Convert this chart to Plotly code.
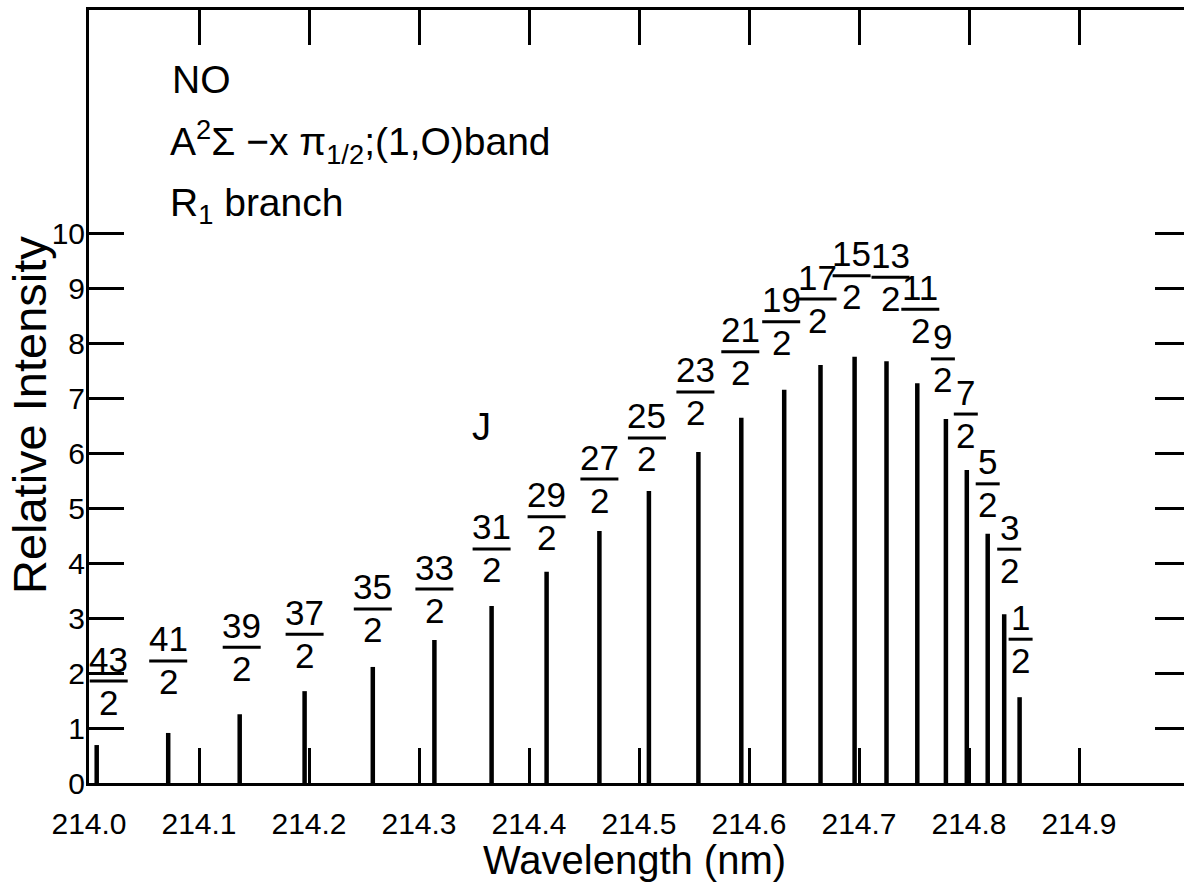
import plotly.graph_objects as go

# ---- data ----
j_numerators = [43, 41, 39, 37, 35, 33, 31, 29, 27, 25, 23, 21, 19, 17, 15, 13, 11, 9, 7, 5, 3, 1]
wavelengths = [214.007, 214.072, 214.137, 214.196, 214.258, 214.314, 214.366, 214.416,
               214.464, 214.509, 214.554, 214.593, 214.632, 214.665, 214.696, 214.725,
               214.753, 214.779, 214.798, 214.817, 214.832, 214.846]
intensities = [0.69, 0.91, 1.25, 1.67, 2.11, 2.60, 3.22, 3.84, 4.58, 5.31, 6.02, 6.64,
               7.15, 7.60, 7.75, 7.67, 7.27, 6.62, 5.69, 4.53, 3.07, 1.56]
x_tick_vals = [214.0, 214.1, 214.2, 214.3, 214.4, 214.5, 214.6, 214.7, 214.8, 214.9]
x_tick_text = ["214.0", "214.1", "214.2", "214.3", "214.4", "214.5", "214.6", "214.7", "214.8", "214.9"]
y_tick_vals = [0, 1, 2, 3, 4, 5, 6, 7, 8, 9, 10]
y_tick_text = ["0", "1", "2", "3", "4", "5", "6", "7", "8", "9", "10"]

# ---- label layout (pixel gaps above each stick, horizontal nudges) ----
label_gap_px = [28, 36, 31, 21, 22, 15, 21, 19, 16, 17, 24, 30, 32, 30, 45, 48, 38, 24, 20, 14, 29, 22]
label_dx_px = [12, 0, 2, 0, 0, 0, 0, 0, 0, -2, -3, -1, -3, -3, -3, 4, 3, -3, -1, 0, 5, 1]

SANS = "Liberation Sans, Arial, sans-serif"

# stick spectrum: one segment per line
sx, sy = [], []
for w, h in zip(wavelengths, intensities):
    sx += [w, w, None]
    sy += [0, h, None]

fig = go.Figure()
fig.add_trace(go.Scatter(x=sx, y=sy, mode="lines",
                         line=dict(color="black", width=4.5),
                         hoverinfo="skip", showlegend=False))
# invisible helper trace so the right-hand tick axis is drawn
fig.add_trace(go.Scatter(x=wavelengths, y=intensities, mode="markers", yaxis="y2",
                         marker=dict(opacity=0), hoverinfo="skip", showlegend=False))

frac_font = dict(family=SANS, size=35, color="black")
annotations = []
shapes = []
for num, w, h, gap, dx in zip(j_numerators, wavelengths, intensities, label_gap_px, label_dx_px):
    den_c = gap + 15
    num_c = den_c + 43
    bar_y = den_c + 21
    annotations.append(dict(x=w, y=h, xref="x", yref="y", text="2", showarrow=False,
                            xanchor="center", yanchor="middle", xshift=dx, yshift=den_c,
                            font=frac_font))
    annotations.append(dict(x=w, y=h, xref="x", yref="y", text=str(num), showarrow=False,
                            xanchor="center", yanchor="middle", xshift=dx, yshift=num_c,
                            font=frac_font))
    half = 19 if num >= 10 else 12
    shapes.append(dict(type="line", xref="x", yref="y", xsizemode="pixel", ysizemode="pixel",
                       xanchor=w, yanchor=h, x0=dx - half, x1=dx + half, y0=bar_y, y1=bar_y,
                       line=dict(color="black", width=3)))

txt_font = dict(family=SANS, size=39, color="black")
annotations += [
    dict(x=214.074, y=12.8, xref="x", yref="y", text="NO", showarrow=False,
         xanchor="left", yanchor="middle", font=txt_font),
    dict(x=214.072, y=11.65, xref="x", yref="y",
         text="A<sup>2</sup>Σ\u00a0−x\u00a0π<sub>1/2</sub>;(1,O)band", showarrow=False,
         xanchor="left", yanchor="middle", font=txt_font),
    dict(x=214.072, y=10.5, xref="x", yref="y", text="R<sub>1</sub> branch", showarrow=False,
         xanchor="left", yanchor="middle", font=txt_font),
    dict(x=214.357, y=6.47, xref="x", yref="y", text="J", showarrow=False,
         xanchor="center", yanchor="middle", font=dict(family=SANS, size=38, color="black")),
    dict(x=0.498, y=0, xref="paper", yref="paper", text="Wavelength (nm)", showarrow=False,
         xanchor="center", yanchor="middle", yshift=-77, font=dict(family=SANS, size=40, color="black")),
    dict(x=0, y=0.476, xref="paper", yref="paper", text="Relative Intensity", showarrow=False,
         textangle=-90, xanchor="center", yanchor="middle", xshift=-60,
         font=dict(family=SANS, size=47, color="black")),
]

fig.update_layout(
    width=1184, height=887,
    margin=dict(l=89, r=0, t=10, b=104),
    paper_bgcolor="white", plot_bgcolor="white",
    showlegend=False,
    xaxis=dict(range=[214.0, 214.0 + 1095 / 1100], tickvals=x_tick_vals, ticktext=x_tick_text,
               ticks="inside", ticklen=35, tickwidth=2.5, tickcolor="black",
               showline=True, linewidth=3, linecolor="black", mirror="ticks",
               showgrid=False, zeroline=False, ticklabelstandoff=12,
               tickfont=dict(family=SANS, size=30, color="black")),
    yaxis=dict(range=[0, 773 / 55], tickvals=y_tick_vals, ticktext=y_tick_text,
               ticks="inside", ticklen=35, tickwidth=2.5, tickcolor="black",
               showline=True, linewidth=3, linecolor="black",
               showgrid=False, zeroline=False, ticklabelstandoff=-5,
               tickfont=dict(family=SANS, size=30, color="black")),
    yaxis2=dict(range=[0, 773 / 55], overlaying="y", side="right", matches="y",
                tickvals=y_tick_vals[1:], ticks="inside", ticklen=29, tickwidth=2.5,
                tickcolor="black", showticklabels=False, showline=False,
                showgrid=False, zeroline=False),
    annotations=annotations,
    shapes=shapes,
)

fig.write_html("out.html", config={"displayModeBar": False},
               post_script="document.body.style.margin='0';document.body.style.overflow='hidden';")
